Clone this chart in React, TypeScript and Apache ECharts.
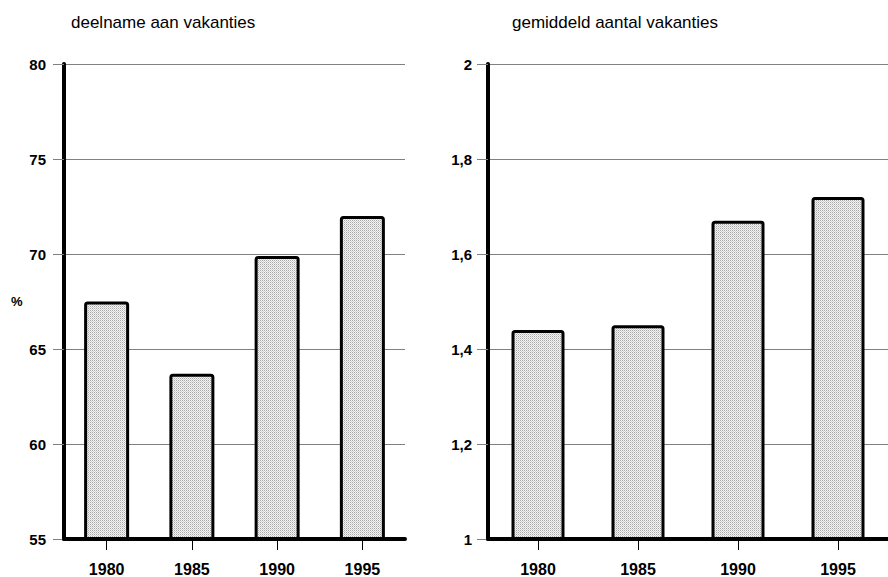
import React, { useEffect, useRef } from "react";
import * as echarts from "echarts";

const years = ["1980", "1985", "1990", "1995"];
const participation = [67.5, 63.7, 69.9, 72.0];
const avgHolidays = [1.44, 1.45, 1.67, 1.72];
const leftTitle = "deelname aan vakanties";
const rightTitle = "gemiddeld aantal vakanties";
const leftUnit = "%";

function makePattern(): string {
  const c = document.createElement("canvas");
  c.width = 2;
  c.height = 2;
  const ctx = c.getContext("2d")!;
  ctx.fillStyle = "#f4f4f4";
  ctx.fillRect(0, 0, 2, 2);
  ctx.fillStyle = "#a8a8a8";
  ctx.fillRect(0, 0, 1, 1);
  ctx.fillStyle = "#cfcfcf";
  ctx.fillRect(1, 1, 1, 1);
  return c.toDataURL();
}

export default function App() {
  const ref = useRef<HTMLDivElement>(null);
  useEffect(() => {
    if (!ref.current) return;
    const chart = echarts.init(ref.current, undefined, { renderer: "svg" });
    const pat = makePattern();
    const fill: any = { image: pat, repeat: "repeat" };
    const font = "'Liberation Sans', Arial, sans-serif";
    const xAxisCommon = (gi: number): any => ({
      type: "category",
      gridIndex: gi,
      data: years,
      boundaryGap: true,
      z: 5,
      axisLine: { show: true, onZero: false, lineStyle: { color: "#000", width: 4 } },
      axisTick: { show: true, alignWithLabel: true, interval: 0, length: 11, lineStyle: { color: "#000", width: 1 } },
      axisLabel: { color: "#000", fontWeight: "bold", fontSize: 16, fontFamily: font, margin: 22, interval: 0 },
      splitLine: { show: false },
    });
    const yAxisCommon = (gi: number, min: number, max: number, interval: number, fmt: (v: number) => string, margin: number): any => ({
      type: "value",
      gridIndex: gi,
      min,
      max,
      interval,
      axisLine: { show: true, lineStyle: { color: "#000", width: 4 } },
      axisTick: { show: true, length: 11, lineStyle: { color: "#808080", width: 1 } },
      axisLabel: { color: "#000", fontWeight: "bold", fontSize: 15, fontFamily: font, margin, formatter: fmt },
      splitLine: { show: true, lineStyle: { color: "#808080", width: 1 } },
    });
    const barStyle = {
      color: fill,
      borderColor: "#000",
      borderWidth: 3,
      borderRadius: 2,
    };
    chart.setOption({
      animation: false,
      backgroundColor: "#fff",
      textStyle: { fontFamily: font },
      grid: [
        { left: 64, top: 64, width: 341, height: 475 },
        { left: 488, top: 64, width: 408, height: 475 },
      ],
      xAxis: [xAxisCommon(0), xAxisCommon(1)],
      yAxis: [
        yAxisCommon(0, 55, 80, 5, (v) => String(v), 18),
        yAxisCommon(1, 1, 2, 0.2, (v) => String(Math.round(v * 10) / 10).replace(".", ","), 16),
      ],
      series: [
        {
          type: "bar",
          xAxisIndex: 0,
          yAxisIndex: 0,
          data: participation,
          barWidth: 45,
          itemStyle: barStyle,
        },
        {
          type: "bar",
          xAxisIndex: 1,
          yAxisIndex: 1,
          data: avgHolidays,
          barWidth: 53,
          itemStyle: barStyle,
        },
      ],
      graphic: [
        { type: "text", left: 71, top: 14, style: { text: leftTitle, fill: "#000", font: `17px ${font}` } },
        { type: "text", left: 512, top: 14, style: { text: rightTitle, fill: "#000", font: `17px ${font}` } },
        { type: "text", left: 11, top: 295, style: { text: leftUnit, fill: "#000", font: `bold 13px ${font}` } },
      ],
    });
    return () => chart.dispose();
  }, []);
  return <div ref={ref} style={{ width: 888, height: 577, position: "absolute", left: 0, top: 0 }} />;
}
